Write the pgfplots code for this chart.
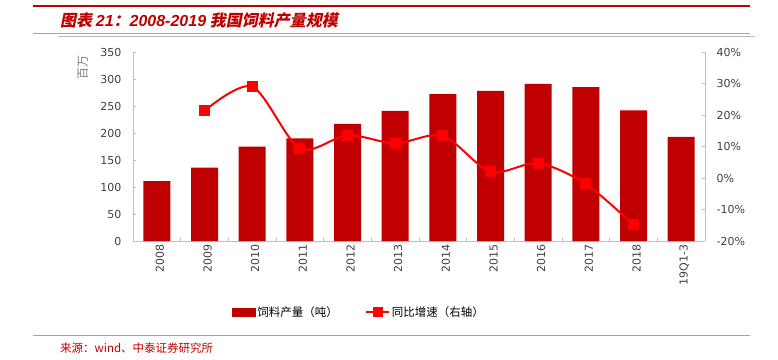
\documentclass[border=0pt]{standalone}
\usepackage{fontspec}
\setmainfont{DejaVu Sans}
\newfontfamily\cjk{Noto Sans CJK SC}
\newfontfamily\cjktitle[FakeSlant=0.2]{Noto Sans CJK SC}
\newfontfamily\latitle{Liberation Sans}
\usepackage{pgfplots}
\pgfplotsset{compat=1.18}
\definecolor{barred}{HTML}{C00000}
\definecolor{linered}{HTML}{FF0000}
\definecolor{axgray}{HTML}{BFBFBF}
\definecolor{titlered}{HTML}{C00000}
\definecolor{pinkline}{HTML}{E08A8A}
\definecolor{ticktext}{HTML}{404040}
\begin{document}
\begin{tikzpicture}
\path[use as bounding box, fill=white] (0pt,0pt) rectangle (778pt,-359pt);
\draw[titlered, line width=2pt] (33pt,-6pt) -- (750pt,-6pt);
\node[anchor=west, text=titlered, inner sep=0pt] at (60pt,-20pt)
  {\cjktitle\bfseries\fontsize{16}{19}\selectfont 图表 {\latitle\bfseries\itshape 21}：{\latitle\bfseries\itshape 2008-2019} 我国饲料产量规模};
\draw[pinkline, line width=0.8pt] (33pt,-33.5pt) -- (750pt,-33.5pt);
\draw[gray!55, line width=0.8pt] (58pt,-36pt) -- (755pt,-36pt);
\draw[pinkline, line width=0.8pt] (33pt,-335pt) -- (750pt,-335pt);
\node[anchor=west, text=titlered, inner sep=0pt] at (60pt,-348pt)
  {\cjk\fontsize{11.5}{13}\selectfont 来源：wind、中泰证券研究所};
\node[rotate=90, text=gray, inner sep=0pt] at (83pt,-67pt) {\cjk\fontsize{12}{14}\selectfont 百万};

\begin{axis}[
  at={(133pt,-241pt)}, anchor=south west,
  scale only axis, width=572pt, height=189pt,
  xmin=-0.5, xmax=11.5, ymin=0, ymax=350,
  axis y line*=left, axis x line*=bottom,
  axis line style={draw=axgray, line width=0.8pt, -},
  ytick={0,50,...,350},
  /pgf/number format/assume math mode=true,
  xtick={0.5,1.5,...,10.5}, xticklabels={},
  extra x ticks={0,1,...,11},
  extra x tick labels={2008,2009,2010,2011,2012,2013,2014,2015,2016,2017,2018,19Q1-3},
  extra x tick style={major tick length=0pt, tick label style={rotate=90, anchor=east}},
  tick style={draw=axgray, line width=0.8pt},
  major tick length=3pt,
  tick label style={text=ticktext, font=\fontsize{11}{13}\selectfont},
  xticklabel style={yshift=-3pt},
  yticklabel style={xshift=-8pt},
]
\addplot[ybar, bar width=27pt, fill=barred, draw=none] coordinates {
(0,111) (1,136) (2,175) (3,190) (4,217) (5,241) (6,272) (7,278) (8,291) (9,285) (10,242) (11,193)};
\end{axis}

\begin{axis}[
  at={(133pt,-241pt)}, anchor=south west,
  scale only axis, width=572pt, height=189pt,
  xmin=-0.5, xmax=11.5, ymin=-20, ymax=40,
  axis y line*=right, axis x line=none,
  axis line style={draw=axgray, line width=0.8pt, -},
  ytick={-20,-10,...,40},
  yticklabels={-20\%,-10\%,0\%,10\%,20\%,30\%,40\%},
  tick style={draw=axgray, line width=0.8pt},
  major tick length=3pt,
  tick label style={text=ticktext, font=\fontsize{11}{13}\selectfont},
  yticklabel style={xshift=8pt},
  legend style={at={(0.395,-0.376)}, anchor=center, draw=none, fill=none,
    legend columns=2, font=\cjk\fontsize{11.5}{14}\selectfont,
    /tikz/every even column/.append style={column sep=25pt}},
  legend cell align=left,
]
\addlegendimage{legend image code/.code={\fill[barred] (0pt,-4pt) rectangle (23pt,4pt);}}
\addlegendentry{饲料产量（吨）}
\addlegendimage{legend image code/.code={\draw[linered, line width=2pt] (0pt,0pt) -- (23pt,0pt); \fill[linered] (7pt,-4.5pt) rectangle (16pt,4.5pt);}}
\addlegendentry{同比增速（右轴）}
\addplot[forget plot, linered, line width=2pt, smooth, tension=0.5, mark=square*, mark size=4.5pt, mark options={fill=linered, draw=linered}] coordinates {
(1,21.3) (2,29.0) (3,9.4) (4,13.6) (5,11.0) (6,13.4) (7,2.0) (8,4.7) (9,-1.9) (10,-14.9)};
\end{axis}
\end{tikzpicture}
\end{document}
